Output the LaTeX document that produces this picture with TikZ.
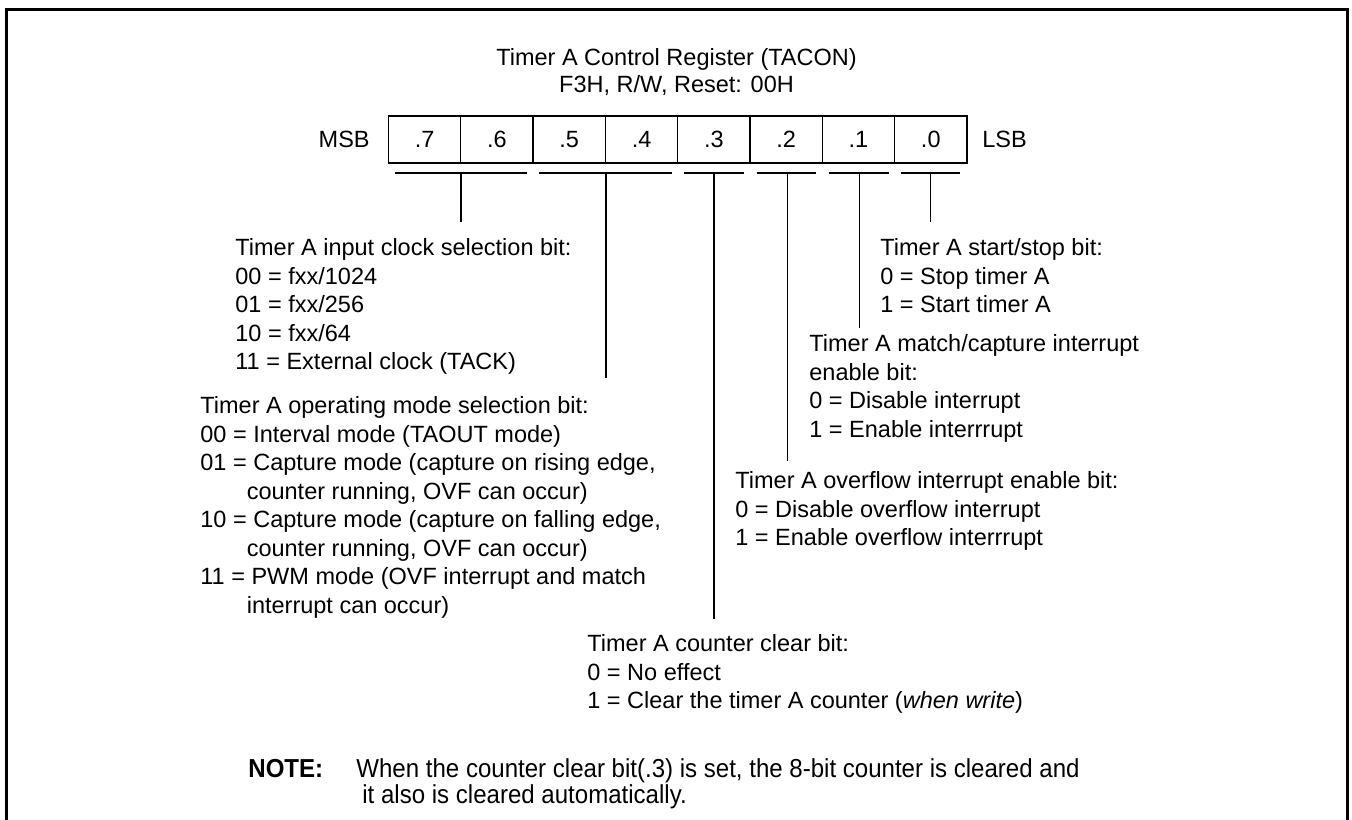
\documentclass[tikz,border=0pt]{standalone}
\usepackage{fontspec}
\setmainfont{Liberation Sans}
\newfontfamily\narrowfont[FakeStretch=0.925]{Liberation Sans}
\newcommand{\firstln}{\rule{0pt}{10pt}}
\newcommand{\firstnote}{\rule{0pt}{11pt}}
\newcommand{\contind}{\hphantom{01 =}}
\begin{document}
\begin{tikzpicture}[x=0.5pt,y=-0.5pt,
  txt/.style={font=\fontsize{11.75}{14.25}\selectfont, inner sep=0pt, align=left, anchor=north west},
  notetxt/.style={font=\narrowfont\fontsize{13}{11.75}\selectfont, inner sep=0pt, align=left, anchor=north west},
  cell/.style={draw, line width=0.65pt, minimum width=36.15pt, minimum height=23.5pt, inner sep=0pt, font=\fontsize{11.75}{14.25}\selectfont},
  link/.style={line width=0.75pt},
  frame/.style={line width=1.5pt}]
\useasboundingbox (0,0) rectangle (1352,819);
\draw[frame] (6,840) -- (6,9) -- (1347.5,9) -- (1347.5,840);

% title
\node[font=\fontsize{11.75}{13.5}\selectfont, align=center, inner sep=0pt] (title) at (676.5,72)
  {Timer A Control Register (TACON)\\F3H, R/W, Reset: 00H};

% register cells
\foreach \k/\lab in {0/7,1/6,2/5,3/4,4/3,5/2,6/1,7/0}{
  \node[cell] (b\lab) at ({388.5+72.3*(\k+0.5)},139.5) {.\lab};
}
\node[txt, anchor=east] (msb) at (370,139.5) {MSB};
\node[txt, anchor=west] (lsb) at (982,139.5) {LSB};

% underlines
\coordinate (u76a) at (395,173);   \coordinate (u76b) at (527,173);
\coordinate (u54a) at (539,173);   \coordinate (u54b) at (672,173);
\coordinate (u3a) at (684,173);    \coordinate (u3b) at (744,173);
\coordinate (u2a) at (756.5,173);  \coordinate (u2b) at (816,173);
\coordinate (u1a) at (829,173);    \coordinate (u1b) at (888.7,173);
\coordinate (u0a) at (900.8,173);  \coordinate (u0b) at (960.4,173);
\foreach \s in {76,54,3,2,1,0}{\draw[link] (u\s a) -- (u\s b);}

% drop lines
\coordinate (d76) at (460.8,173);  \coordinate (e76) at (460.8,222);
\coordinate (d54) at (606,173);    \coordinate (e54) at (606,378);
\coordinate (d3) at (714,173);     \coordinate (e3) at (714,619);
\coordinate (d2) at (787.5,173);   \coordinate (e2) at (787.5,461);
\coordinate (d1) at (859.5,173);   \coordinate (e1) at (859.5,328);
\coordinate (d0) at (930.5,173);   \coordinate (e0) at (930.5,222);
\foreach \s in {76,54,3,2,1,0}{\draw[link] (d\s) -- (e\s);}

% descriptions
\node[txt] (tA) at (235,235.4) {\firstln Timer A input clock selection bit:\\
00 = fxx/1024\\
01 = fxx/256\\
10 = fxx/64\\
11 = External clock (TACK)};

\node[txt] (tB) at (200,393.4) {\firstln Timer A operating mode selection bit:\\
00 = Interval mode (TAOUT mode)\\
01 = Capture mode (capture on rising edge,\\
\contind counter running, OVF can occur)\\
10 = Capture mode (capture on falling edge,\\
\contind counter running, OVF can occur)\\
11 = PWM mode (OVF interrupt and match\\
\contind interrupt can occur)};

\node[txt] (tC) at (587,631.4) {\firstln Timer A counter clear bit:\\
0 = No effect\\
1 = Clear the timer A counter (\textit{when write})};

\node[txt] (tD) at (735,468.4) {\firstln Timer A overflow interrupt enable bit:\\
0 = Disable overflow interrupt\\
1 = Enable overflow interrrupt};

\node[txt] (tE) at (809,331.4) {\firstln Timer A match/capture interrupt\\
enable bit:\\
0 = Disable interrupt\\
1 = Enable interrrupt};

\node[txt] (tF) at (880,235.4) {\firstln Timer A start/stop bit:\\
0 = Stop timer A\\
1 = Start timer A};

% note
\node[notetxt] (noteh) at (248,755.3) {\firstnote\bfseries NOTE:};
\node[notetxt] (notet) at (356,755.3) {\firstnote When the counter clear bit(.3) is set, the 8-bit counter is cleared and\\
\hspace*{3pt}it also is cleared automatically.};
\end{tikzpicture}
\end{document}
